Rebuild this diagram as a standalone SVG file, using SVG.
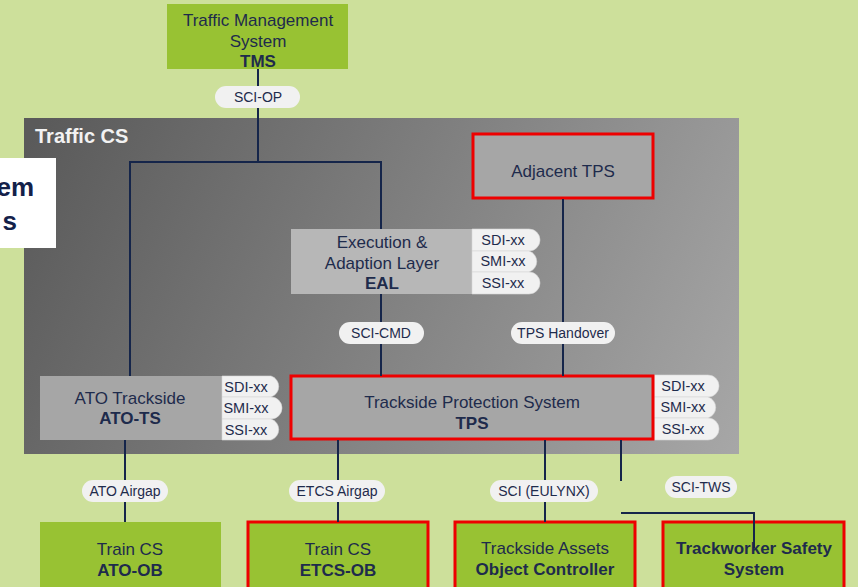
<svg xmlns="http://www.w3.org/2000/svg" width="858" height="587" viewBox="0 0 858 587">
  <defs>
    <linearGradient id="panelGrad" gradientUnits="userSpaceOnUse" x1="40" y1="118" x2="739" y2="454">
      <stop offset="0" stop-color="#5a5a5a"/>
      <stop offset="1" stop-color="#a7a7a7"/>
    </linearGradient>
    <style>
      text { font-family: "Liberation Sans", Arial, sans-serif; fill: #1e2b4c; text-anchor: middle; }
      .t16 { font-size: 17px; }
      .b { font-weight: bold; }
      .green { fill: #98c233; }
      .grey { fill: #a6a6a6; }
      .light { fill: #b7b7b7; }
      .red { stroke: #ee0000; stroke-width: 3; }
      .wire { fill: none; stroke: #15254a; stroke-width: 2; }
      .pill { fill: #f1f1f1; }
      .pill-t { font-size: 14px; }
      .tab { fill: #f1f1f1; stroke: #d6d6d6; stroke-width: 0.6; }
      .tab-t { font-size: 14.5px; }
    </style>
  </defs>

  <!-- page background -->
  <rect x="0" y="0" width="858" height="587" fill="#cde09b"/>

  <!-- Traffic CS container -->
  <g id="traffic-cs">
    <rect x="24" y="118" width="715" height="336" fill="url(#panelGrad)"/>
    <text x="35" y="143" style="font-size:20px;font-weight:bold;fill:#f2f2f2;text-anchor:start">Traffic CS</text>
  </g>

  <!-- partly hidden caption box at the left edge -->
  <g id="side-caption">
    <rect x="0" y="158" width="56" height="90" fill="#ffffff"/>
    <text x="34" y="196" style="font-size:26px;font-weight:bold;fill:#13214a;text-anchor:end">em</text>
    <text x="17" y="230" style="font-size:26px;font-weight:bold;fill:#13214a;text-anchor:end">s</text>
  </g>

  <!-- TMS -->
  <g id="tms">
    <rect x="167" y="4" width="181" height="65" class="green"/>
    <text x="258" y="26" class="t16">Traffic Management</text>
    <text x="258" y="47" class="t16">System</text>
    <text x="258" y="67" class="t16 b">TMS</text>
  </g>

  <!-- EAL -->
  <g id="eal">
    <rect x="291" y="229" width="183" height="65" class="light"/>
    <text x="382" y="248" class="t16">Execution &amp;</text>
    <text x="382" y="269" class="t16">Adaption Layer</text>
    <text x="382" y="289" class="t16 b">EAL</text>
    <path class="tab" d="M472,229 H529 A11,11 0 0 1 529,251 H472 Z"/>
    <path class="tab" d="M472,251 H529 A11,11 0 0 1 529,272 H472 Z"/>
    <path class="tab" d="M472,272 H529 A11,11 0 0 1 529,294 H472 Z"/>
    <text x="503" y="245" class="tab-t">SDI-xx</text>
    <text x="503" y="266" class="tab-t">SMI-xx</text>
    <text x="503" y="288" class="tab-t">SSI-xx</text>
  </g>

  <!-- Adjacent TPS -->
  <g id="adjacent-tps">
    <rect x="473" y="134" width="180" height="64" class="grey red"/>
    <text x="563" y="177" class="t16">Adjacent TPS</text>
  </g>

  <!-- ATO Trackside -->
  <g id="ato-ts">
    <rect x="40" y="376" width="184" height="64" class="grey"/>
    <text x="130" y="404" class="t16">ATO Trackside</text>
    <text x="130" y="424" class="t16 b">ATO-TS</text>
    <path class="tab" d="M222,376 H271 A11,11 0 0 1 271,397 H222 Z"/>
    <path class="tab" d="M222,397 H271 A11,11 0 0 1 271,419 H222 Z"/>
    <path class="tab" d="M222,419 H271 A11,11 0 0 1 271,440 H222 Z"/>
    <text x="246" y="392" class="tab-t">SDI-xx</text>
    <text x="246" y="413" class="tab-t">SMI-xx</text>
    <text x="246" y="435" class="tab-t">SSI-xx</text>
  </g>

  <!-- TPS -->
  <g id="tps">
    <path class="tab" d="M654,375 H708 A11,11 0 0 1 708,397 H654 Z"/>
    <path class="tab" d="M654,397 H708 A11,11 0 0 1 708,418 H654 Z"/>
    <path class="tab" d="M654,418 H708 A11,11 0 0 1 708,440 H654 Z"/>
    <text x="683" y="391" class="tab-t">SDI-xx</text>
    <text x="683" y="412" class="tab-t">SMI-xx</text>
    <text x="683" y="434" class="tab-t">SSI-xx</text>
    <rect x="291" y="376" width="362" height="63" class="grey red"/>
    <text x="472" y="408" class="t16">Trackside Protection System</text>
    <text x="472" y="429" class="t16 b">TPS</text>
  </g>

  <!-- on-board and field systems -->
  <g id="ato-ob">
    <rect x="40" y="522" width="181" height="70" class="green"/>
    <text x="130" y="555" class="t16">Train CS</text>
    <text x="130" y="576" class="t16 b">ATO-OB</text>
  </g>
  <g id="etcs-ob">
    <rect x="248" y="522" width="180" height="70" class="green red"/>
    <text x="338" y="555" class="t16">Train CS</text>
    <text x="338" y="576" class="t16 b">ETCS-OB</text>
  </g>
  <g id="object-controller">
    <rect x="455" y="522" width="180" height="70" class="green red"/>
    <text x="545" y="554" class="t16">Trackside Assets</text>
    <text x="545" y="575" class="t16 b">Object Controller</text>
  </g>
  <g id="trackworker-safety">
    <rect x="663" y="522" width="181" height="70" class="green red"/>
    <text x="754" y="554" class="t16 b">Trackworker Safety</text>
    <text x="754" y="575" class="t16 b">System</text>
  </g>

  <!-- connectors and interface labels -->
  <g id="connectors">
    <path class="wire" d="M258,69 V162"/>
    <path class="wire" d="M130,376 V162 H381 V229"/>
    <path class="wire" d="M381,294 V376"/>
    <path class="wire" d="M563,199 V376"/>
    <path class="wire" d="M125,440 V522"/>
    <path class="wire" d="M338,440 V522"/>
    <path class="wire" d="M545,440 V522"/>
    <path class="wire" d="M621,440 V481"/>
    <path class="wire" d="M621,513 H754 V548"/>

    <rect x="215" y="86" width="85" height="22" rx="11" class="pill"/>
    <text x="258" y="102" class="pill-t">SCI-OP</text>
    <rect x="339" y="322" width="85" height="22" rx="11" class="pill"/>
    <text x="381" y="338" class="pill-t">SCI-CMD</text>
    <rect x="511" y="322" width="104" height="22" rx="11" class="pill"/>
    <text x="563" y="338" class="pill-t">TPS Handover</text>
    <rect x="82" y="480" width="86" height="22" rx="11" class="pill"/>
    <text x="125" y="496" class="pill-t">ATO Airgap</text>
    <rect x="289" y="480" width="96" height="22" rx="11" class="pill"/>
    <text x="337" y="496" class="pill-t">ETCS Airgap</text>
    <rect x="490" y="480" width="108" height="22" rx="11" class="pill"/>
    <text x="544" y="496" class="pill-t">SCI (EULYNX)</text>
    <rect x="665" y="476" width="72" height="22" rx="11" class="pill"/>
    <text x="701" y="492" class="pill-t">SCI-TWS</text>
  </g>
</svg>
